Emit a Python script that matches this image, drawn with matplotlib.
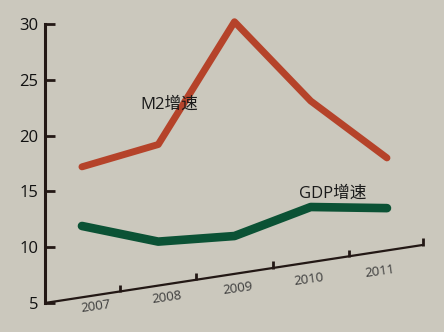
import matplotlib
matplotlib.use("Agg")
import matplotlib.pyplot as plt
import numpy as np

plt.rcParams['font.family'] = ['Open Sans', 'Noto Sans CJK SC', 'DejaVu Sans']

# Data
years = [2007, 2008, 2009, 2010, 2011]
m2_growth = [17.2, 19.2, 30.2, 23.1, 18.0]
gdp_growth = [11.9, 10.5, 11.0, 13.6, 13.5]
y_ticks = [5, 10, 15, 20, 25, 30]
series_labels = ["M2增速", "GDP增速"]

BG = "#cbc8bd"
INK = "#231815"
M2_COLOR = "#b5432a"
GDP_COLOR = "#0b5235"

fig = plt.figure(figsize=(4.44, 3.32), dpi=100)
fig.patch.set_facecolor(BG)
ax = fig.add_axes([0, 0, 1, 1])
ax.set_facecolor(BG)

ax.set_xlim(2005.925, 2011.748)
ax.set_ylim(2.40, 32.15)

# Vertical value axis
x_origin = 2006.515
for s in ["top", "right", "bottom"]:
    ax.spines[s].set_visible(False)
ax.spines["left"].set_position(("data", x_origin))
ax.spines["left"].set_bounds(y_ticks[0], y_ticks[-1])
ax.spines["left"].set_linewidth(2.2)
ax.spines["left"].set_color(INK)
ax.set_yticks(y_ticks)
ax.tick_params(axis="y", direction="in", length=7, width=2, color=INK,
               labelsize=12, labelcolor="#111111", pad=5)
ax.set_xticks([])

# Slanted category axis
x_end = years[-1] + 0.47
y_end = 10.2
ax.plot([x_origin, x_end], [y_ticks[0], y_end], color=INK, lw=1.6,
        solid_capstyle="butt", zorder=3)
slope = (y_end - y_ticks[0]) / (x_end - x_origin)
tick_x = [y + 0.5 for y in years[:-1]] + [x_end]
for tx in tick_x:
    ty = y_ticks[0] + slope * (tx - x_origin)
    ax.plot([tx, tx], [ty - 0.05, ty + 0.6], color=INK, lw=2.0,
            solid_capstyle="butt", zorder=3)

# Year labels along the slanted axis
lab_x = np.linspace(2007.184, 2010.909, len(years))
lab_y = np.linspace(4.73, 7.87, len(years))
for yr, lx, ly in zip(years, lab_x, lab_y):
    ax.text(lx, ly, str(yr), fontsize=9.5, color="#3a3a3a", rotation=8,
            ha="center", va="center", rotation_mode="anchor")

# Series lines
ax.plot(years, m2_growth, color=M2_COLOR, lw=5.0, solid_capstyle="round",
        solid_joinstyle="round", zorder=4)
ax.plot(years, gdp_growth, color=GDP_COLOR, lw=6.2, solid_capstyle="round",
        solid_joinstyle="round", zorder=4)

# Series annotations
ax.text(2008.14, 22.74, series_labels[0], fontsize=12, color="#1a1a1a",
        ha="center", va="center", zorder=5)
ax.text(2010.29, 14.77, series_labels[1], fontsize=12, color="#1a1a1a",
        ha="center", va="center", zorder=5)

fig.savefig("out.png", dpi=100, facecolor=BG)
